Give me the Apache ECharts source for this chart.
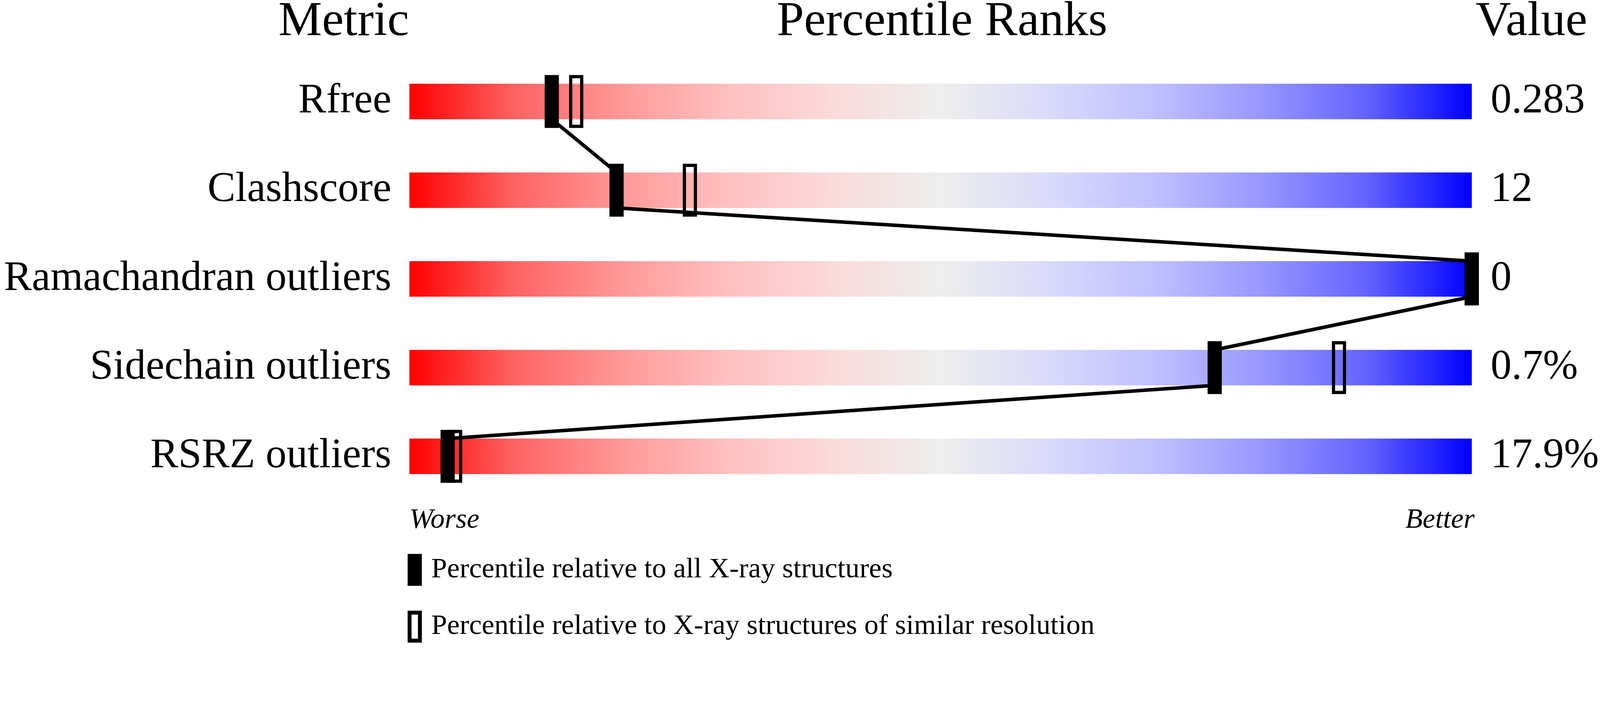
<!DOCTYPE html>
<html><head><meta charset="utf-8">
<script src="https://cdn.jsdelivr.net/npm/echarts@6/dist/echarts.min.js"></script>
<style>html,body{margin:0;padding:0;background:#fff;overflow:hidden}#c{position:absolute;left:0;top:0}</style>
</head><body><div id="c"></div>
<script>
const metrics = ['Rfree', 'Clashscore', 'Ramachandran outliers', 'Sidechain outliers', 'RSRZ outliers'];
const valueLabels = ['0.283', '12', '0', '0.7%', '17.9%'];
const pctAll = [13.4, 19.5, 100, 75.8, 3.6];
const pctSimilar = [15.7, 26.4, 100, 87.5, 4.3];
const fullScale = [100, 100, 100, 100, 100];
const headers = ['Metric', 'Percentile Ranks', 'Value'];
const endLabels = ['Worse', 'Better'];
const legendNames = ['Percentile relative to all X-ray structures', 'Percentile relative to X-ray structures of similar resolution'];

const FONT = 'Liberation Serif, Times New Roman, serif';
const K = 0.24; // baseline offset below the middle anchor, in em
const W = 4506, H = 1824;
const vw = window.innerWidth || document.documentElement.clientWidth || W;
const s = vw / W;
const P = v => v * s;
const gridL = 1153, gridR = 4153, gridT = 161, gridH = 1250;

const el = document.getElementById('c');
el.style.width = P(W) + 'px';
el.style.height = P(H) + 'px';
const chart = echarts.init(el, null, {renderer: 'canvas'});

const grad = new echarts.graphic.LinearGradient(0, 0, 1, 0, [
  {offset: 0, color: '#ff0000'},
  {offset: 0.1, color: '#ff6464'},
  {offset: 0.2, color: '#ff9898'},
  {offset: 0.3, color: '#ffc0c0'},
  {offset: 0.4, color: '#fadada'},
  {offset: 0.5, color: '#eeeeee'},
  {offset: 0.6, color: '#dadafa'},
  {offset: 0.7, color: '#c0c0ff'},
  {offset: 0.8, color: '#9898ff'},
  {offset: 0.9, color: '#6464ff'},
  {offset: 1, color: '#0000ff'}
]);

function hText(text, x, baseline, size, align, italic) {
  return {
    type: 'text', x: P(x), y: P(baseline - K * size), silent: true,
    style: {text: text, fontFamily: FONT, fontSize: P(size), fontStyle: italic ? 'italic' : 'normal',
      fill: '#000', align: align, verticalAlign: 'middle'}
  };
}

function markerRenderer(w, h, filled) {
  return function (params, api) {
    const c = api.coord([api.value(0), api.value(1)]);
    if (filled) {
      return {type: 'rect', shape: {x: c[0] - P(w) / 2, y: c[1] - P(h) / 2, width: P(w), height: P(h)},
        style: {fill: '#000'}};
    }
    const lw = P(9);
    return {type: 'rect', shape: {x: c[0] - P(w) / 2 + lw / 2, y: c[1] - P(h) / 2 + lw / 2, width: P(w) - lw, height: P(h) - lw},
      style: {fill: 'none', stroke: '#000', lineWidth: lw}};
  };
}

const option = {
  animation: false,
  backgroundColor: '#ffffff',
  grid: {left: P(gridL), right: P(W - gridR), top: P(gridT), height: P(gridH), containLabel: false},
  xAxis: {type: 'value', min: 0, max: 100, show: false, splitLine: {show: false}},
  yAxis: [
    {type: 'category', data: metrics, inverse: true,
      axisLine: {show: false}, axisTick: {show: false}, splitLine: {show: false},
      axisLabel: {fontFamily: FONT, fontSize: P(118), color: '#000', margin: P(51), padding: [P(43), 0, 0, 0]}},
    {type: 'category', data: valueLabels, inverse: true, position: 'right',
      axisLine: {show: false}, axisTick: {show: false}, splitLine: {show: false},
      axisLabel: {fontFamily: FONT, fontSize: P(118), color: '#000', margin: P(53), align: 'left', padding: [P(43), 0, 0, 0]}}
  ],
  legend: {
    orient: 'vertical', left: P(1148), top: P(1561), itemWidth: P(40), itemHeight: P(90), itemGap: P(70),
    selectedMode: false, padding: 0,
    textStyle: {fontFamily: FONT, fontSize: P(80), lineHeight: P(48), color: '#000', padding: [P(42), 0, 0, P(21)]},
    data: [
      {name: legendNames[0], icon: 'rect', itemStyle: {color: '#000', borderWidth: 0}},
      {name: legendNames[1], icon: 'path://M0,0H40V90H0Z M11,11V79H29V11Z', itemStyle: {color: '#000', borderWidth: 0}}
    ]
  },
  graphic: [
    hText(headers[0], 1152, 96, 138, 'right'),
    hText(headers[1], (gridL + gridR) / 2, 96, 138, 'center'),
    hText(headers[2], 4156, 96, 138, 'left'),
    hText(endLabels[0], 1153, 1486, 80, 'left', true),
    hText(endLabels[1], gridR, 1486, 80, 'right', true)
  ],
  series: [
    {type: 'bar', data: fullScale, barWidth: '40%', silent: true, z: 1,
      itemStyle: {color: grad}},
    {type: 'custom', name: legendNames[1], data: pctSimilar.map((v, i) => [v, i]), z: 2, silent: true,
      itemStyle: {color: '#000'},
      renderItem: markerRenderer(40, 149, false)},
    {type: 'custom', name: 'connector', z: 3, silent: true,
      data: pctAll.slice(0, -1).map((v, i) => [v, i]),
      renderItem: function (params, api) {
        const i = params.dataIndex;
        const c0 = api.coord([0, 0]), c1 = api.coord([0, 1]);
        const half = Math.abs(c1[1] - c0[1]) * 0.2;
        const a = api.coord([pctAll[i], i]);
        const b = api.coord([pctAll[i + 1], i + 1]);
        return {type: 'line', shape: {x1: a[0], y1: a[1] + half, x2: b[0], y2: b[1] - half},
          style: {stroke: '#000', lineWidth: P(10), lineCap: 'butt'}};
      }},
    {type: 'custom', name: legendNames[0], data: pctAll.map((v, i) => [v, i]), z: 4, silent: true,
      itemStyle: {color: '#000'},
      renderItem: markerRenderer(40, 149, true)}
  ]
};
chart.setOption(option);
</script>
</body></html>
